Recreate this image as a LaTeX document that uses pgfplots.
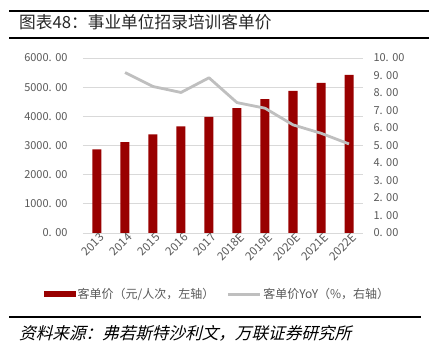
\documentclass[border=0pt]{standalone}
\usepackage{fontspec}
\setmainfont{Noto Sans CJK SC}
\newfontfamily\cjkit[FakeSlant=0.25]{Noto Sans CJK SC}
\usepackage{pgfplots}
\pgfplotsset{compat=1.18}
\definecolor{barred}{RGB}{153,0,0}
\definecolor{linegray}{RGB}{191,191,191}
\definecolor{txtgray}{RGB}{89,89,89}
\definecolor{gridgray}{RGB}{217,217,217}
\newcommand{\dsp}{.\hspace{3.5pt}}
\begin{document}
\begin{tikzpicture}
\path[use as bounding box] (0,0) rectangle (429pt,359pt);
\draw[line width=2pt] (9pt,348pt) -- (429pt,348pt);
\draw[line width=2pt] (9pt,320.5pt) -- (429pt,320.5pt);
\node[anchor=west,inner sep=0pt,font=\fontsize{16.7}{16.7}\selectfont,text=black!85] at (19pt,337pt) {图表48：事业单位招录培训客单价};
\draw[line width=1.5pt] (9pt,42pt) -- (421pt,42pt);
\node[anchor=west,inner sep=0pt,font=\fontsize{16.6}{16.6}\selectfont\cjkit] at (19pt,26pt) {资料来源：弗若斯特沙利文，万联证券研究所};
\begin{axis}[
  at={(83pt,126pt)}, anchor=south west, scale only axis,
  width=280pt, height=175pt,
  xmin=-0.5, xmax=9.5, ymin=0, ymax=6000,
  axis line style={draw=none},
  major tick length=0pt,
  ymajorgrids, grid style={gridgray, line width=0.8pt},
  xtick={0,...,9},
  xticklabels={2013,2014,2015,2016,2017,2018E,2019E,2020E,2021E,2022E},
  x tick label style={rotate=45, anchor=north east, font=\fontsize{11.5}{11.5}\selectfont, text=txtgray, inner sep=1pt, xshift=3pt},
  ytick={0,1000,...,6000},
  yticklabels={0\dsp00,1000\dsp00,2000\dsp00,3000\dsp00,4000\dsp00,5000\dsp00,6000\dsp00},
  y tick label style={font=\fontsize{11}{11}\selectfont, text=txtgray, anchor=east, xshift=-12pt},
  legend style={at={(0.48,-0.349)}, anchor=center, draw=none, fill=none, legend columns=2,
    font=\fontsize{12}{12}\selectfont, text=txtgray,
    /tikz/every even column/.append style={column sep=10pt}},
  clip=false,
]
\addplot[ybar, bar width=9pt, fill=barred, draw=none,
  legend image code/.code={\fill[barred] (0pt,-3.3pt) rectangle (32pt,3.3pt);}]
  coordinates {(0,2869) (1,3120) (2,3385) (3,3660) (4,3980) (5,4279) (6,4589) (7,4874) (8,5150) (9,5425)};
\addlegendentry{客单价（元/人次，左轴）}
\addlegendimage{linegray, line width=3pt, legend image code/.code={\draw[linegray, line width=3pt] (0pt,0pt) -- (32pt,0pt);}}
\addlegendentry{客单价YoY（\%，右轴）}
\end{axis}
\begin{axis}[
  at={(83pt,126pt)}, anchor=south west, scale only axis,
  width=280pt, height=175pt,
  xmin=-0.5, xmax=9.5, ymin=0, ymax=10,
  axis line style={draw=none},
  major tick length=0pt,
  axis y line*=right, hide x axis,
  ytick={0,1,...,10},
  yticklabels={0\dsp00,1\dsp00,2\dsp00,3\dsp00,4\dsp00,5\dsp00,6\dsp00,7\dsp00,8\dsp00,9\dsp00,10\dsp00},
  y tick label style={font=\fontsize{11}{11}\selectfont, text=txtgray, anchor=west, xshift=7pt},
]
\addplot[linegray, line width=2.8pt, line join=round]
  coordinates {(1,9.17) (2,8.37) (3,8.03) (4,8.87) (5,7.45) (6,7.13) (7,6.18) (8,5.70) (9,5.09)};
\end{axis}
\end{tikzpicture}
\end{document}
